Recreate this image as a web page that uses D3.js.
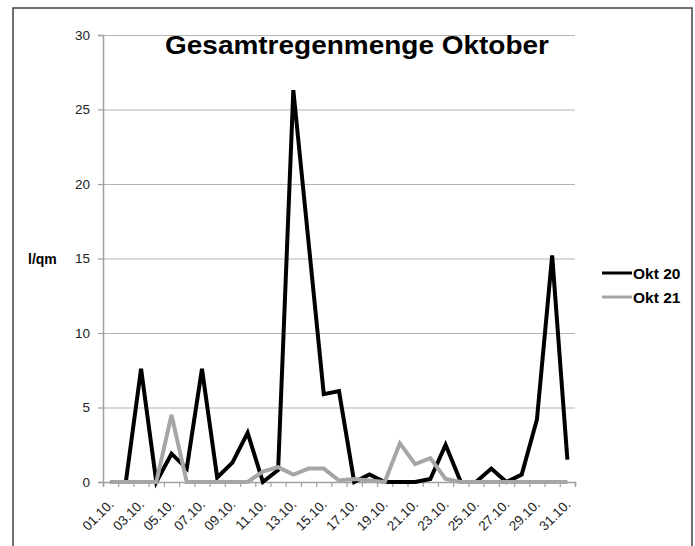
<!DOCTYPE html>
<html>
<head>
<meta charset="utf-8">
<script src="https://cdn.jsdelivr.net/npm/d3@7"></script>
<style>
  body { margin: 0; background: #fff; }
  text { font-family: "Liberation Sans", Arial, sans-serif; }
</style>
</head>
<body>
<div id="chart"></div>
<script>
var width = 695;
var height = 546;

// days of October
var days = ["01.10.", "02.10.", "03.10.", "04.10.", "05.10.", "06.10.", "07.10.", "08.10.",
  "09.10.", "10.10.", "11.10.", "12.10.", "13.10.", "14.10.", "15.10.", "16.10.",
  "17.10.", "18.10.", "19.10.", "20.10.", "21.10.", "22.10.", "23.10.", "24.10.",
  "25.10.", "26.10.", "27.10.", "28.10.", "29.10.", "30.10.", "31.10."];

// rain in l/qm
var okt20 = [0, 0, 7.6, 0, 1.9, 0.9, 7.6, 0.3, 1.3, 3.3, 0, 0.8, 26.3, 16.1, 5.9, 6.1,
  0, 0.5, 0, 0, 0, 0.2, 2.5, 0, 0, 0.9, 0, 0.5, 4.2, 15.2, 1.5];
var okt21 = [0, 0, 0, 0, 4.5, 0, 0, 0, 0, 0, 0.7, 1.0, 0.5, 0.9, 0.9, 0.1,
  0.2, 0.1, 0, 2.6, 1.2, 1.6, 0.2, 0, 0, 0, 0, 0, 0, 0, 0];

var yTicks = [0, 5, 10, 15, 20, 25, 30];
var seriesNames = ["Okt 20", "Okt 21"];
var seriesColors = ["#000000", "#a6a6a6"];

var svg = d3.select("#chart").append("svg")
  .attr("width", width)
  .attr("height", height)

// outer frame
svg.append("rect")
  .attr("x", 13)
  .attr("y", 8)
  .attr("width", 679)
  .attr("height", 580)
  .attr("fill", "none")
  .attr("stroke", "#404040")
  .attr("stroke-width", 1.5)

var x = d3.scaleBand().domain(days).range([103, 575]).padding(0)
var xEdge = d3.scaleLinear().domain([0, days.length]).range([103, 575])
var y = d3.scaleLinear().domain([0, 30]).range([482, 35])

// gridlines
svg.append("g")
  .attr("transform", "translate(103,0)")
  .call(d3.axisLeft(y).tickValues(yTicks.slice(1)).tickSize(-472).tickFormat(""))
  .call(function(g) {
    g.select(".domain").remove()
    g.selectAll("line").attr("stroke", "#b3b3b3").attr("stroke-width", 1)
  })

// y axis
svg.append("g")
  .attr("transform", "translate(103,0)")
  .call(d3.axisLeft(y).tickValues(yTicks).tickSize(5).tickPadding(8))
  .call(function(g) {
    g.select(".domain").attr("stroke", "#a0a0a0").attr("stroke-width", 1.5)
    g.selectAll("line").attr("stroke", "#a0a0a0").attr("stroke-width", 1.2)
    g.selectAll("text")
      .attr("font-size", "13.5px")
      .attr("font-family", "Liberation Sans, Arial, sans-serif")
      .attr("fill", "#222")
  })

// x axis with ticks between categories
svg.append("g")
  .attr("transform", "translate(0,482)")
  .call(d3.axisBottom(xEdge).tickValues(d3.range(days.length + 1)).tickSize(5).tickFormat(""))
  .call(function(g) {
    g.select(".domain").attr("stroke", "#a0a0a0").attr("stroke-width", 1.5)
    g.selectAll("line").attr("stroke", "#a0a0a0").attr("stroke-width", 1.2)
  })

svg.append("g")
  .selectAll("text")
  .data(days.filter(function(d, i) { return i % 2 === 0 }))
  .enter()
  .append("text")
  .attr("transform", function(d) {
    return "translate(" + (x(d) + x.bandwidth() / 2 + 4) + ",505) rotate(-45)"
  })
  .attr("text-anchor", "end")
  .attr("font-size", "13.5px")
  .attr("fill", "#222")
  .text(function(d) { return d })

// lines
var line = d3.line()
  .x(function(d, i) { return x(days[i]) + x.bandwidth() / 2 })
  .y(function(d) { return y(d) })
  .curve(d3.curveLinear)

svg.selectAll("path.series")
  .data([okt20, okt21])
  .enter()
  .append("path")
  .attr("class", "series")
  .attr("d", line)
  .attr("fill", "none")
  .attr("stroke", function(d, i) { return seriesColors[i] })
  .attr("stroke-width", 4)
  .attr("stroke-linejoin", "miter")

// title
svg.append("text")
  .attr("x", 357)
  .attr("y", 54)
  .attr("text-anchor", "middle")
  .attr("font-size", "25px")
  .attr("font-weight", "bold")
  .attr("textLength", 384)
  .attr("lengthAdjust", "spacingAndGlyphs")
  .text("Gesamtregenmenge Oktober")

// y axis title
svg.append("text")
  .attr("x", 28)
  .attr("y", 264)
  .attr("font-size", "14px")
  .attr("font-weight", "bold")
  .text("l/qm")

// legend
var legend = svg.selectAll("g.legend")
  .data(seriesNames)
  .enter()
  .append("g")
  .attr("class", "legend")
  .attr("transform", function(d, i) {
    return "translate(602," + (273 + i * 24) + ")"
  })

legend.append("line")
  .attr("x1", 0)
  .attr("x2", 30)
  .attr("stroke", function(d, i) { return seriesColors[i] })
  .attr("stroke-width", 3)

legend.append("text")
  .attr("x", 31)
  .attr("y", 5.5)
  .attr("font-size", "15.5px")
  .attr("font-weight", "bold")
  .text(function(d) { return d })
</script>
</body>
</html>
